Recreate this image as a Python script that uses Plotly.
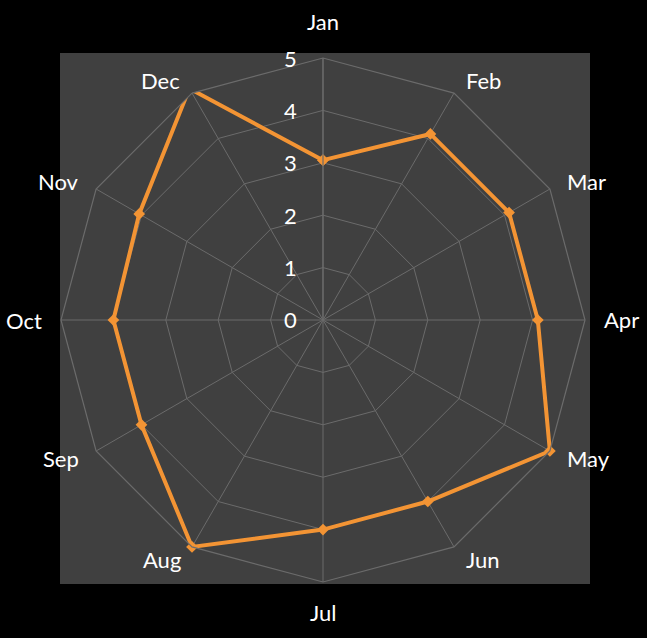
import math
import plotly.graph_objects as go

months = ["Jan", "Feb", "Mar", "Apr", "May", "Jun", "Jul", "Aug", "Sep", "Oct", "Nov", "Dec"]
values = [3.05, 4.1, 4.1, 4.1, 5.0, 4.0, 4.0, 5.0, 4.0, 4.0, 4.05, 5.1]
radial_ticks = [0, 1, 2, 3, 4, 5]

W, H = 647, 638
cx, cy, R = 323, 320, 262
LABEL_R = 277

fig = go.Figure()
fig.add_trace(go.Scatterpolar(
    r=values + values[:1],
    theta=months + months[:1],
    mode="lines+markers",
    line=dict(color="#f39434", width=4),
    marker=dict(color="#f39434", size=9, symbol="diamond"),
    cliponaxis=False,
    showlegend=False,
))

annotations = []
n = len(months)
for i, m in enumerate(months):
    a = 2 * math.pi * i / n
    s, c = math.sin(a), math.cos(a)
    px = cx + LABEL_R * s
    py = cy - LABEL_R * c
    if s > 0.1:
        xa, px = "left", px + 2
    elif s < -0.1:
        xa, px = "right", px - 2
    else:
        xa = "center"
        py = py - 21 if c > 0 else py + 15
    annotations.append(dict(text=m, x=px / W, y=1 - py / H, xref="paper", yref="paper",
                            showarrow=False, xanchor=xa, yanchor="middle",
                            font=dict(size=22, color="#ffffff")))
for t in radial_ticks:
    py = cy - R * t / 5
    annotations.append(dict(text=str(t), x=(cx - 33) / W, y=1 - py / H, xref="paper", yref="paper",
                            showarrow=False, xanchor="center", yanchor="middle",
                            font=dict(size=22, color="#ffffff")))

grid = "#6b6b6b"
fig.update_layout(
    width=W, height=H,
    margin=dict(l=0, r=0, t=0, b=0),
    paper_bgcolor="#000000",
    font=dict(family="Lato, Open Sans, sans-serif", color="#ffffff", size=22),
    shapes=[dict(type="rect", xref="paper", yref="paper",
                 x0=60 / W, x1=590 / W, y0=1 - 584 / H, y1=1 - 53 / H,
                 fillcolor="#404040", line=dict(width=0), layer="below")],
    annotations=annotations,
    polar=dict(
        domain=dict(x=[(cx - R) / W, (cx + R) / W], y=[1 - (cy + R) / H, 1 - (cy - R) / H]),
        bgcolor="rgba(0,0,0,0)",
        gridshape="linear",
        angularaxis=dict(
            direction="clockwise", rotation=90,
            gridcolor=grid, gridwidth=1.2,
            linecolor=grid, linewidth=1.2, showline=True,
            ticks="", showticklabels=False,
        ),
        radialaxis=dict(
            range=[0, 5], dtick=1, angle=90,
            gridcolor=grid, gridwidth=1.2,
            showline=True, linecolor=grid, linewidth=1.2,
            ticks="", showticklabels=False,
        ),
    ),
)

fig.write_html("out.html")
